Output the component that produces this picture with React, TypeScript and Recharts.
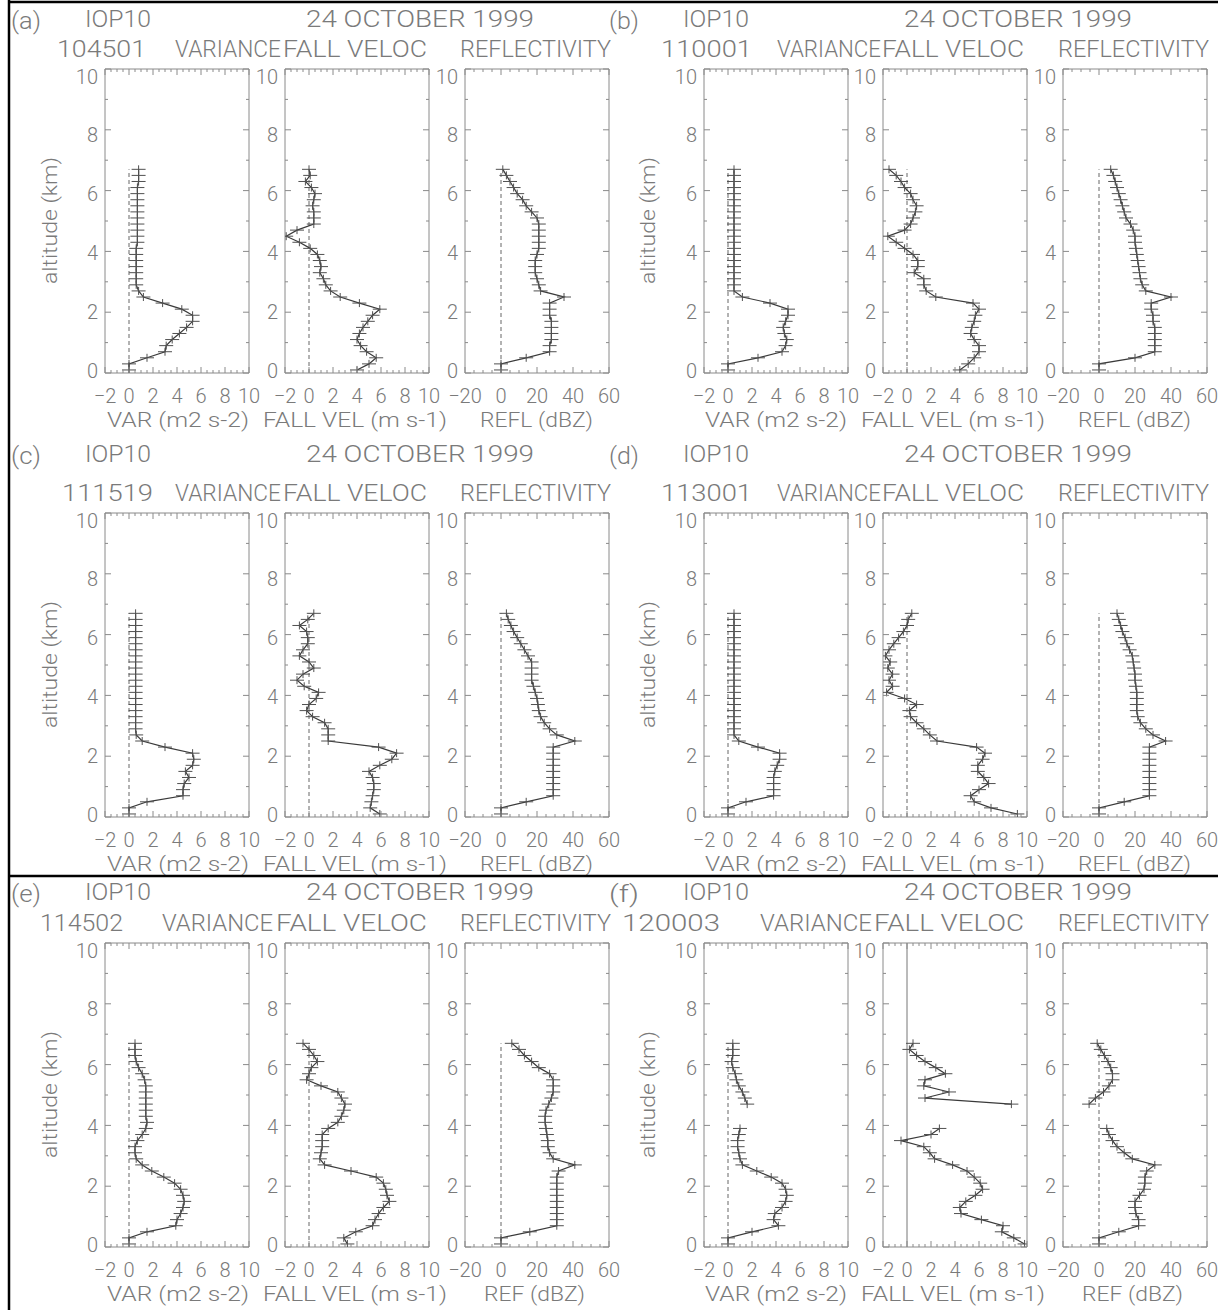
import React from 'react';
import { LineChart, Line, XAxis, YAxis, ReferenceLine } from 'recharts';

// Altitudes (km) of the profile samples
const ALT = [0.1, 0.3, 0.5, 0.7, 0.9, 1.1, 1.3, 1.5, 1.7, 1.9, 2.1, 2.3, 2.5, 2.7, 2.9, 3.1, 3.3, 3.5, 3.7, 3.9, 4.1, 4.3, 4.5, 4.7, 4.9, 5.1, 5.3, 5.5, 5.7, 5.9, 6.1, 6.3, 6.5, 6.7];

// (a) 104501
const VAR_A = [0, 0, 1.5, 3.0, 3.1, 3.6, 4.2, 4.8, 5.3, 5.3, 4.4, 2.8, 1.2, 0.8, 0.6, 0.6, 0.6, 0.6, 0.6, 0.6, 0.6, 0.7, 0.7, 0.7, 0.7, 0.7, 0.7, 0.7, 0.7, 0.7, 0.7, 0.8, 0.8, 0.8];
const FALL_A = [4.0, 5.0, 5.6, 4.8, 4.3, 4.0, 4.2, 4.5, 4.9, 5.3, 5.9, 4.2, 2.6, 1.8, 1.4, 1.2, 0.9, 1.0, 0.9, 0.7, 0.1, -0.8, -1.9, -1.0, 0.4, 0.4, 0.4, 0.3, 0.4, 0.5, 0.2, -0.3, 0.1, 0.0];
const REFL_A = [0, 0, 14, 27, 27, 28, 28, 28, 28, 27, 27, 27, 35, 22, 21, 20, 19, 19, 19, 20, 21, 21, 21, 21, 21, 20, 17, 14, 12, 9, 7, 5, 3, 1];

// (b) 110001
const VAR_B = [0, 0, 2.5, 4.5, 4.8, 4.9, 4.7, 4.6, 4.8, 5.0, 5.0, 3.5, 1.2, 0.5, 0.5, 0.5, 0.5, 0.5, 0.5, 0.5, 0.5, 0.5, 0.5, 0.5, 0.5, 0.5, 0.5, 0.5, 0.5, 0.5, 0.5, 0.5, 0.5, 0.5];
const FALL_B = [4.4, 5.1, 5.6, 6.0, 6.0, 5.6, 5.3, 5.4, 5.6, 5.7, 6.0, 5.5, 2.4, 1.6, 1.4, 1.4, 0.6, 0.9, 0.9, 0.5, -0.2, -0.9, -1.6, -0.2, 0.3, 0.5, 0.7, 0.8, 0.5, 0.3, -0.2, -0.5, -0.9, -1.5];
const REFL_B = [0, 0, 20, 31, 31, 31, 31, 31, 30, 30, 29, 29, 40, 26, 24, 23, 22.5, 22, 21.5, 21, 20.5, 20, 20, 19, 17.5, 15, 14, 13, 12, 11, 10, 9, 8, 6.5];

// (c) 111519
const VAR_C = [0, 0, 1.5, 4.5, 4.5, 4.6, 5.0, 4.7, 5.3, 5.4, 5.3, 3.0, 1.1, 0.6, 0.55, 0.55, 0.55, 0.55, 0.55, 0.55, 0.55, 0.55, 0.55, 0.55, 0.55, 0.55, 0.55, 0.55, 0.55, 0.55, 0.55, 0.55, 0.55, 0.55];
const FALL_C = [5.9, 5.1, 5.2, 5.3, 5.4, 5.4, 5.3, 5.0, 5.9, 6.9, 7.3, 5.8, 1.6, 1.6, 1.6, 1.3, 0.3, -0.2, 0.0, 0.6, 0.8, -0.4, -1.0, -0.5, 0.4, 0.0, -0.8, -0.5, -0.1, -0.1, -0.2, -0.8, -0.1, 0.4];
const REFL_C = [0, 0, 14, 29, 29, 29, 29, 29, 29, 29, 29, 29, 41, 31, 27, 24, 22, 21, 20.5, 20, 19, 18, 17, 17, 17, 17, 15, 13, 11, 9, 7, 5.5, 4, 3];

// (d) 113001
const VAR_D = [0, 0, 1.5, 3.8, 3.8, 3.8, 3.8, 3.9, 4.1, 4.3, 4.3, 2.5, 0.9, 0.5, 0.5, 0.5, 0.5, 0.5, 0.5, 0.5, 0.5, 0.5, 0.5, 0.5, 0.5, 0.5, 0.5, 0.5, 0.5, 0.5, 0.5, 0.5, 0.5, 0.5];
const FALL_D = [9.2, 7.0, 5.6, 5.3, 6.0, 6.8, 6.4, 5.9, 5.9, 6.3, 6.5, 5.8, 2.5, 1.9, 1.4, 0.8, 0.3, 0.2, 0.8, -0.2, -1.7, -1.2, -1.5, -1.2, -1.6, -1.4, -1.8, -1.5, -1.1, -0.7, -0.3, 0.0, 0.1, 0.4];
const REFL_D = [0, 0, 14, 28, 28, 28, 28, 28, 28, 28, 28, 28, 37, 30, 26, 23, 21.5, 21, 21, 21, 21, 20.5, 20, 20, 19.5, 19, 18.5, 17, 15.5, 14.5, 13, 12, 11, 10];

// (e) 114502
const VAR_E = [0, 0, 1.5, 3.9, 4.0, 4.3, 4.5, 4.6, 4.5, 4.3, 3.8, 2.9, 1.9, 1.1, 0.6, 0.5, 0.5, 0.7, 1.1, 1.4, 1.5, 1.4, 1.4, 1.4, 1.4, 1.4, 1.4, 1.3, 1.1, 0.8, 0.6, 0.5, 0.5, 0.5];
const FALL_E = [3.2, 2.9, 3.9, 5.3, 5.5, 5.8, 6.2, 6.7, 6.5, 6.4, 6.2, 5.6, 3.5, 1.3, 0.9, 1.0, 1.1, 1.1, 1.1, 1.6, 2.4, 2.7, 2.9, 3.0, 2.7, 2.4, 1.0, -0.2, 0.0, 0.2, 0.7, 0.4, 0.0, -0.5];
const REFL_E = [0, 0, 16, 31, 31, 31, 31, 31, 31, 31, 31, 31, 32, 41, 29, 27, 26, 26, 25.5, 25, 24.5, 24.5, 25, 26.5, 28, 29, 29, 29, 27, 21, 17, 13, 10, 6];

// (f) 120003
const VAR_F = [0, 0, 2.0, 4.2, 3.8, 3.9, 4.5, 4.8, 4.9, 4.8, 4.5, 3.6, 2.4, 1.2, 1.0, 0.9, 0.8, 0.8, 0.9, 1.0, null, null, null, 1.6, 1.4, 1.2, 0.9, 0.7, 0.6, 0.4, 0.3, 0.4, 0.4, 0.4];
const FALL_F = [9.8, 8.9, 7.9, 8.0, 6.2, 4.5, 4.4, 4.9, 5.7, 6.3, 6.1, 5.6, 5.0, 3.8, 2.3, 1.9, 1.4, -0.5, 2.0, 2.7, null, null, null, 8.7, 1.5, 3.5, 1.4, 1.5, 3.2, 2.4, 1.5, 0.8, 0.2, 0.5];
const REFL_F = [0, 0, 11, 22, 22, 20.5, 20, 20, 22.5, 25, 25.5, 25.5, 26.5, 31, 18.5, 14, 10, 7.5, 5.5, 4.3, null, null, null, -5.5, -2, 2.5, 5.5, 7.5, 7.5, 6.5, 5, 3, 1, -1];

// Tick labels
const VAR_TICKS = [-2, 0, 2, 4, 6, 8, 10];
const REFL_TICKS = [-20, 0, 20, 40, 60];
const ALT_TICKS = [0, 2, 4, 6, 8, 10];

const LETTERS = ['(a)', '(b)', '(c)', '(d)', '(e)', '(f)'];
const TIMES = ['104501', '110001', '111519', '113001', '114502', '120003'];

const FRAME = '#8a8a8a';
const TXT = '#7a7a7a';
const LINE = '#3a3a3a';
const FONT = "Roboto, 'DejaVu Sans', sans-serif";

const BOX_W = 144;
const BOX_H = 304;
const ROW_TOP = [69, 513, 943];
const COL_BOX = [[105, 285, 465], [704, 883, 1063]];
const TITLE_Y = [27, 462, 900];
const SUB_Y = [57, 501, 931];

const L = 45, R = 12, T = 12, B = 40;

function withMinor(majors: number[], step: number) {
  const out: number[] = [];
  const lo = majors[0], hi = majors[majors.length - 1];
  const n = Math.round((hi - lo) / step);
  for (let i = 0; i <= n; i++) out.push(+(lo + i * step).toFixed(3));
  return out;
}
const isIn = (arr: number[], v: number) => arr.some((m) => Math.abs(m - v) < 1e-6);
const fmt = (v: number) => (v < 0 ? '\u2212' + Math.abs(v) : String(v));

// split a profile into contiguous runs (gaps where a value is missing)
function buildRows(values: (number | null)[]) {
  let seg = 0;
  let prevNull = false;
  const rows = ALT.map((a, i) => {
    const v = values[i];
    const row: any = { alt: a };
    if (v == null) {
      if (!prevNull && i > 0) seg++;
      prevNull = true;
    } else {
      row['s' + seg] = v;
      prevNull = false;
    }
    return row;
  });
  return { rows, nseg: seg + 1 };
}

const makeDot = (key: string) => (p: any) => {
  const { cx, cy, payload, index } = p;
  if (cx == null || cy == null || !payload || payload[key] == null || Number.isNaN(cx) || Number.isNaN(cy)) {
    return <g key={key + index} />;
  }
  return (
    <g key={key + index} stroke="#505050" strokeWidth={1}>
      <line x1={cx - 7} x2={cx + 7} y1={cy} y2={cy} />
      <line x1={cx} x2={cx} y1={cy - 4} y2={cy + 4} />
    </g>
  );
};

function Profile(props: { left: number; top: number; values: (number | null)[]; majors: number[]; step: number; full?: boolean }) {
  const { left, top, values, majors, step, full } = props;
  const { rows, nseg } = buildRows(values);
  const domain: [number, number] = [majors[0], majors[majors.length - 1]];
  const xt = withMinor(majors, step);
  const yt = withMinor(ALT_TICKS, 1);
  const bottomTick = (p: any) => {
    const v = p.payload.value;
    const mj = isIn(majors, v);
    return (
      <g>
        <line x1={p.x} x2={p.x} y1={p.y} y2={p.y - (mj ? 6 : 3)} stroke={FRAME} />
        {mj && (
          <text x={p.x} y={p.y + 30} textAnchor="middle" fontSize={20} fontFamily={FONT} fontWeight={300} fill={TXT}>
            {fmt(v)}
          </text>
        )}
      </g>
    );
  };
  const topTick = (p: any) => {
    const mj = isIn(majors, p.payload.value);
    return <line x1={p.x} x2={p.x} y1={p.y} y2={p.y + (mj ? 6 : 3)} stroke={FRAME} />;
  };
  const leftTick = (p: any) => {
    const v = p.payload.value;
    const mj = isIn(ALT_TICKS, v);
    return (
      <g>
        <line x1={p.x} x2={p.x + (mj ? 6 : 3)} y1={p.y} y2={p.y} stroke={FRAME} />
        {mj && (
          <text x={p.x - 7} y={p.y + 4.5 + v} textAnchor="end" fontSize={20} fontFamily={FONT} fontWeight={300} fill={TXT}>
            {v}
          </text>
        )}
      </g>
    );
  };
  const rightTick = (p: any) => {
    const mj = isIn(ALT_TICKS, p.payload.value);
    return <line x1={p.x} x2={p.x - (mj ? 6 : 3)} y1={p.y} y2={p.y} stroke={FRAME} />;
  };
  const segs = Array.from({ length: nseg }, (_, k) => 's' + k);
  return (
    <div style={{ position: 'absolute', left: left - L, top: top - T }}>
      <LineChart
        width={L + BOX_W + R}
        height={T + BOX_H + B}
        layout="vertical"
        data={rows}
        margin={{ top: 0, right: 0, bottom: 0, left: 0 }}
      >
        <XAxis type="number" domain={domain} ticks={xt} interval={0} allowDataOverflow height={B}
          tickLine={false} tickSize={0} tickMargin={0} axisLine={{ stroke: FRAME }} tick={bottomTick} />
        <XAxis xAxisId="top" orientation="top" type="number" domain={domain} ticks={xt} interval={0} allowDataOverflow height={T}
          tickLine={false} tickSize={0} tickMargin={0} axisLine={{ stroke: FRAME }} tick={topTick} />
        <YAxis type="number" dataKey="alt" domain={[0, 10]} reversed ticks={yt} interval={0} allowDataOverflow width={L}
          tickLine={false} tickSize={0} tickMargin={0} axisLine={{ stroke: FRAME }} tick={leftTick} />
        <YAxis yAxisId="right" orientation="right" type="number" dataKey="alt" domain={[0, 10]} reversed ticks={yt} interval={0}
          allowDataOverflow width={R} tickLine={false} tickSize={0} tickMargin={0} axisLine={{ stroke: FRAME }} tick={rightTick} />
        {full ? (
          <ReferenceLine x={0} stroke="#777" strokeWidth={1} />
        ) : (
          <ReferenceLine segment={[{ x: 0, y: 0 }, { x: 0, y: ALT[ALT.length - 1] }]} stroke="#666" strokeWidth={1} strokeDasharray="4 3" />
        )}
        {segs.map((k) => (
          <Line key={k} type="linear" dataKey={k} stroke={LINE} strokeWidth={1.2} dot={makeDot(k)} activeDot={false}
            isAnimationActive={false} connectNulls={false} />
        ))}
      </LineChart>
    </div>
  );
}

const SERIES = [
  [VAR_A, FALL_A, REFL_A],
  [VAR_B, FALL_B, REFL_B],
  [VAR_C, FALL_C, REFL_C],
  [VAR_D, FALL_D, REFL_D],
  [VAR_E, FALL_E, REFL_E],
  [VAR_F, FALL_F, REFL_F],
];

// text placement (start x, width) per panel
const TIME_POS = [[57, 89], [661, 91], [62, 91], [661, 91], [40, 83], [622, 98]];
const VARI_POS = [[175, 106], [777, 104], [175, 106], [777, 104], [162, 111], [760, 112]];
const FALLV_POS = [[283, 144], [882, 142], [283, 144], [882, 142], [276, 151], [874, 150]];

function Txt(p: { x: number; y: number; w?: number; size?: number; anchor?: string; children: any; rotate?: boolean }) {
  const { x, y, w, size = 24, anchor = 'start', rotate } = p;
  return (
    <text
      x={x}
      y={y}
      fontSize={size}
      fontFamily={FONT}
      fontWeight={300}
      fill={TXT}
      textAnchor={anchor as any}
      textLength={w}
      lengthAdjust={w ? 'spacingAndGlyphs' : undefined}
      transform={rotate ? `rotate(-90 ${x} ${y})` : undefined}
    >
      {p.children}
    </text>
  );
}

export default function App() {
  const charts: any[] = [];
  const texts: any[] = [];
  SERIES.forEach((s, i) => {
    const row = Math.floor(i / 2);
    const col = i % 2;
    const top = ROW_TOP[row];
    const xs = COL_BOX[col];
    const dx = col === 0 ? 0 : 598;
    charts.push(<Profile key={`v${i}`} left={xs[0]} top={top} values={s[0]} majors={VAR_TICKS} step={0.5} />);
    charts.push(<Profile key={`f${i}`} left={xs[1]} top={top} values={s[1]} majors={VAR_TICKS} step={0.5} full={i === 5} />);
    charts.push(<Profile key={`r${i}`} left={xs[2]} top={top} values={s[2]} majors={REFL_TICKS} step={5} />);

    const ty = TITLE_Y[row];
    const sy = SUB_Y[row];
    const by = top + BOX_H + 54;
    texts.push(<Txt key={`l${i}`} x={11 + dx} y={ty + 2} w={30}>{LETTERS[i]}</Txt>);
    texts.push(<Txt key={`i${i}`} x={85 + dx} y={ty} w={66}>IOP10</Txt>);
    texts.push(<Txt key={`d${i}`} x={306 + dx} y={ty} w={228}>24 OCTOBER 1999</Txt>);
    texts.push(<Txt key={`t${i}`} x={TIME_POS[i][0]} y={sy} w={TIME_POS[i][1]}>{TIMES[i]}</Txt>);
    texts.push(<Txt key={`va${i}`} x={VARI_POS[i][0]} y={sy} w={VARI_POS[i][1]}>VARIANCE</Txt>);
    texts.push(<Txt key={`fv${i}`} x={FALLV_POS[i][0]} y={sy} w={FALLV_POS[i][1]}>FALL VELOC</Txt>);
    texts.push(<Txt key={`rf${i}`} x={460 + dx} y={sy} w={151}>REFLECTIVITY</Txt>);
    texts.push(<Txt key={`xv${i}`} x={107 + dx} y={by} w={142} size={21}>VAR (m2 s-2)</Txt>);
    texts.push(<Txt key={`xf${i}`} x={263 + dx} y={by} w={184} size={21}>FALL VEL (m s-1)</Txt>);
    texts.push(
      row === 2 ? (
        <Txt key={`xr${i}`} x={484 + dx} y={by} w={101} size={21}>REF (dBZ)</Txt>
      ) : (
        <Txt key={`xr${i}`} x={480 + dx} y={by} w={113} size={21}>REFL (dBZ)</Txt>
      )
    );
    texts.push(
      <Txt key={`al${i}`} x={57 + dx} y={top + BOX_H / 2 + 63} w={127} size={21} rotate>
        altitude (km)
      </Txt>
    );
  });

  return (
    <div style={{ position: 'absolute', left: 0, top: 0, width: 1218, height: 1310, background: '#fff', overflow: 'hidden' }}>
      {charts}
      <svg width={1218} height={1310} style={{ position: 'absolute', left: 0, top: 0, pointerEvents: 'none' }}>
        {texts}
        <line x1={9} x2={9} y1={0} y2={1310} stroke="#000" strokeWidth={2.5} />
        <line x1={8} x2={1218} y1={2} y2={2} stroke="#000" strokeWidth={2.5} />
        <line x1={8} x2={1218} y1={876} y2={876} stroke="#000" strokeWidth={2.5} />
      </svg>
    </div>
  );
}
